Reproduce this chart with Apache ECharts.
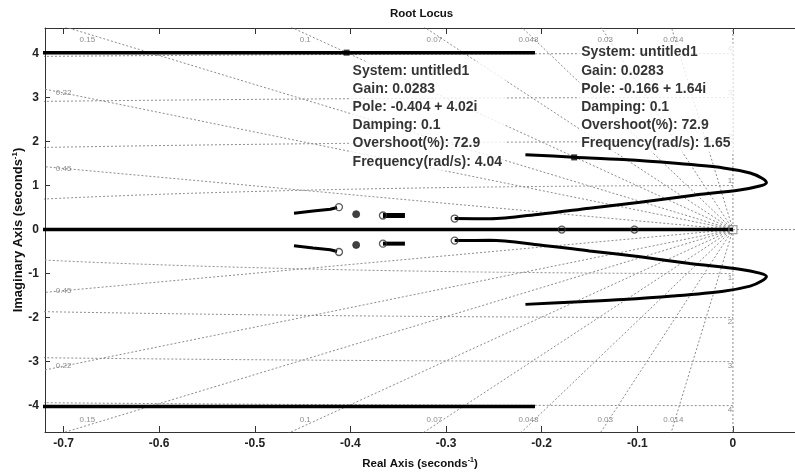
<!DOCTYPE html>
<html><head><meta charset="utf-8">
<script src="https://cdn.jsdelivr.net/npm/echarts@6/dist/echarts.min.js"></script>
<style>html,body{margin:0;padding:0;background:#fff}#c{width:795px;height:473px}</style>
</head><body><div id="c"></div>
<script>
// ---- axis ticks ----
const xTicks = [-0.7, -0.6, -0.5, -0.4, -0.3, -0.2, -0.1, 0];
const yTicks = [-4, -3, -2, -1, 0, 1, 2, 3, 4];
const xRange = [-0.7194, 0.0649];
const yRange = [-4.6, 4.58];
// ---- s-plane grid values ----
const dampingValues = [0.014, 0.03, 0.048, 0.07, 0.1, 0.15, 0.22, 0.45];
const freqValues = [1, 2, 3, 4];
// ---- root locus branches ----
const realAxisX = [-0.75, 0];
const highBranchX = [-0.75, -0.207];
const highBranchImag = 4.02;
const loopX = [-0.291, -0.254, -0.202, -0.150, -0.097, -0.045, 0.007, 0.028, 0.035, 0.030, 0.018, -0.010, -0.063, -0.115, -0.166, -0.217];
const loopImag = [0.25, 0.245, 0.35, 0.485, 0.62, 0.77, 0.90, 0.99, 1.065, 1.17, 1.285, 1.40, 1.51, 1.59, 1.645, 1.70];
const clusterAX = [-0.459, -0.439, -0.421, -0.414];
const clusterAImag = [0.37, 0.42, 0.46, 0.50];
const clusterCX = [-0.366, -0.343];
const clusterCImag = [0.32, 0.32];
// ---- zero markers (open circles) ----
const zeroX = [-0.291, -0.291, -0.179, -0.103, -0.412, -0.412, -0.366, -0.366];
const zeroImag = [0.25, -0.25, 0, 0, 0.51, -0.51, 0.32, -0.32];
const blobX = [-0.394, -0.394];
const blobImag = [0.35, -0.35];
// ---- data tips ----
const tipPole = [[-0.404, 4.02], [-0.166, 1.64]];
const tipSystem = 'untitled1';
const tipGain = ['0.0283', '0.0283'];
const tipPoleText = ['-0.404 + 4.02i', '-0.166 + 1.64i'];
const tipDamping = ['0.1', '0.1'];
const tipOvershoot = ['72.9', '72.9'];
const tipFreq = ['4.04', '1.65'];

const gridColor = '#8c8c8c';
const dotted = { color: gridColor, width: 1, type: [2, 2] };
const series = [];

// damping lines
dampingValues.forEach(z => {
  const s = Math.sqrt(1 - z * z);
  [1, -1].forEach(sg => {
    series.push({ type: 'line', data: [[0, 0], [-10 * z, sg * 10 * s]], symbol: 'none', silent: true,
      lineStyle: dotted, z: 1, animation: false });
  });
});
// natural frequency semicircles
freqValues.forEach(w => {
  const pts = [];
  for (let i = 0; i <= 1440; i++) {
    const phi = Math.PI / 2 + Math.PI * i / 1440;
    pts.push([w * Math.cos(phi), w * Math.sin(phi)]);
  }
  series.push({ type: 'line', data: pts, symbol: 'none', silent: true, lineStyle: dotted, z: 1, animation: false });
});
// imaginary axis and positive real axis dotted lines
series.push({ type: 'line', data: [[0, yRange[0]], [0, yRange[1]]], symbol: 'none', silent: true, lineStyle: dotted, z: 1, animation: false });
series.push({ type: 'line', data: [[0, 0], [xRange[1], 0]], symbol: 'none', silent: true, lineStyle: dotted, z: 1, animation: false });

// damping labels
const dampLabelData = [];
dampingValues.forEach(z => {
  const s = Math.sqrt(1 - z * z) / z;
  const xTop = -4.45 / s;
  if (xTop >= -0.7) {
    dampLabelData.push({ value: [xTop, 4.32], name: String(z) });
    dampLabelData.push({ value: [xTop, -4.32], name: String(z) });
  } else {
    dampLabelData.push({ value: [-0.7, 0.7 * s], name: String(z) });
    dampLabelData.push({ value: [-0.7, -0.7 * s], name: String(z) });
  }
});
series.push({ type: 'scatter', data: dampLabelData, symbolSize: 0, silent: true, z: 2, animation: false,
  label: { show: true, position: 'inside', formatter: p => p.name, fontSize: 8, color: '#707070', fontFamily: 'Liberation Sans' } });
// frequency labels
const freqLabelData = [];
freqValues.forEach(w => { freqLabelData.push({ value: [0, w + 0.1], name: String(w) }); freqLabelData.push({ value: [0, -w - 0.1], name: String(w) }); });
series.push({ type: 'scatter', data: freqLabelData, symbolSize: 0, silent: true, z: 2, animation: false,
  label: { show: true, position: 'inside', offset: [-3, 0], formatter: p => p.name, fontSize: 8, color: '#707070', fontFamily: 'Liberation Sans' } });

// locus branches
function branch(data, w, smooth) {
  series.push({ type: 'line', data, symbol: 'none', smooth: smooth || false, silent: true, z: 5, animation: false,
    lineStyle: { color: '#000', width: w || 3 } });
}
branch(realAxisX.map(x => [x, 0]), 3.5);
branch(highBranchX.map(x => [x, highBranchImag]), 3.5);
branch(highBranchX.map(x => [x, -highBranchImag]), 3.5);
branch(loopX.map((x, i) => [x, loopImag[i]]), 3, 0.3);
branch(loopX.map((x, i) => [x, -loopImag[i]]), 3, 0.3);
branch(clusterAX.map((x, i) => [x, clusterAImag[i]]), 3);
branch(clusterAX.map((x, i) => [x, -clusterAImag[i]]), 3);
branch(clusterCX.map((x, i) => [x, clusterCImag[i]]), 5);
branch(clusterCX.map((x, i) => [x, -clusterCImag[i]]), 4);

// open circle markers
series.push({ type: 'scatter', data: zeroX.map((x, i) => [x, zeroImag[i]]), symbol: 'circle', symbolSize: 7, silent: true, z: 6, animation: false,
  itemStyle: { color: 'rgba(255,255,255,0)', borderColor: '#333', borderWidth: 1.3 } });
series.push({ type: 'scatter', data: blobX.map((x, i) => [x, blobImag[i]]), symbol: 'circle', symbolSize: 7, silent: true, z: 6, animation: false,
  itemStyle: { color: '#111', borderColor: '#333', borderWidth: 1 } });
series.push({ type: 'scatter', data: [[0, 0]], symbol: 'rect', symbolSize: 8, silent: true, z: 6, animation: false,
  itemStyle: { color: 'rgba(255,255,255,0)', borderColor: '#888', borderWidth: 1.2 } });

// data tips
const tipOffsets = [[7, 12], [8, -111]];
series.push({ type: 'scatter', symbol: 'rect', symbolSize: 6, silent: true, z: 8, animation: false,
  itemStyle: { color: '#000' },
  data: tipPole.map((p, i) => ({ value: p, label: { position: tipOffsets[i] } })),
  label: { show: true, align: 'left', verticalAlign: 'top',
    formatter: p => {
      const i = p.dataIndex;
      return ['System: ' + tipSystem, 'Gain: ' + tipGain[i], 'Pole: ' + tipPoleText[i], 'Damping: ' + tipDamping[i],
        'Overshoot(%): ' + tipOvershoot[i], 'Frequency(rad/s): ' + tipFreq[i]].join('\n');
    },
    fontFamily: 'Liberation Sans', fontWeight: 'bold', fontSize: 14, color: '#000', lineHeight: 18.2,
    backgroundColor: '#fff', padding: [0, 3, 0, 2] } });

const axisFont = { fontFamily: 'Liberation Sans', fontWeight: 'bold', fontSize: 12, color: '#222' };
const nameRich = { a: { fontFamily: 'Liberation Sans', fontWeight: 'bold', fontSize: 11.5, color: '#111' },
  s: { fontFamily: 'Liberation Sans', fontWeight: 'bold', fontSize: 7, color: '#111', verticalAlign: 'top', padding: [0, 0, 6, 0] } };
const nameRichY = { a: { fontFamily: 'Liberation Sans', fontWeight: 'bold', fontSize: 13, color: '#111' },
  s: { fontFamily: 'Liberation Sans', fontWeight: 'bold', fontSize: 8, color: '#111', verticalAlign: 'top', padding: [0, 0, 6, 0] } };
const axisLine = { show: true, onZero: false, lineStyle: { color: '#333', width: 1 } };

const chart = echarts.init(document.getElementById('c'));
chart.setOption({
  animation: false,
  backgroundColor: '#fff',
  title: { text: 'Root Locus', left: 390, top: 8, padding: 0,
    textStyle: { fontFamily: 'Liberation Sans', fontWeight: 'bold', fontSize: 11.5, color: '#111' } },
  grid: { left: 45, right: 0, top: 28, bottom: 41, containLabel: false, outerBoundsMode: 'none' },
  xAxis: [
    { type: 'value', position: 'bottom', min: xRange[0], max: xRange[1], axisLine,
      axisTick: { show: true, inside: true, length: 6, customValues: xTicks, lineStyle: { color: '#333' } },
      axisLabel: Object.assign({ customValues: xTicks, margin: 6 }, axisFont),
      splitLine: { show: false },
      name: '{a|Real Axis (seconds}{s|-1}{a|)}', nameLocation: 'middle', nameGap: 25, nameTextStyle: { rich: nameRich } },
    { type: 'value', position: 'top', min: xRange[0], max: xRange[1], axisLine,
      axisTick: { show: true, inside: true, length: 6, customValues: xTicks, lineStyle: { color: '#333' } },
      axisLabel: { show: false }, splitLine: { show: false } }
  ],
  yAxis: [
    { type: 'value', min: yRange[0], max: yRange[1], axisLine,
      axisTick: { show: true, inside: true, length: 5, customValues: yTicks, lineStyle: { color: '#333' } },
      axisLabel: Object.assign({ customValues: yTicks, margin: 6 }, axisFont),
      splitLine: { show: false },
      name: '{a|Imaginary Axis (seconds}{s|-1}{a|)}', nameLocation: 'middle', nameGap: 20, nameRotate: 90,
      nameMoveOverlap: false,
      nameTextStyle: { rich: nameRichY } }
  ],
  series
});
</script></body></html>
